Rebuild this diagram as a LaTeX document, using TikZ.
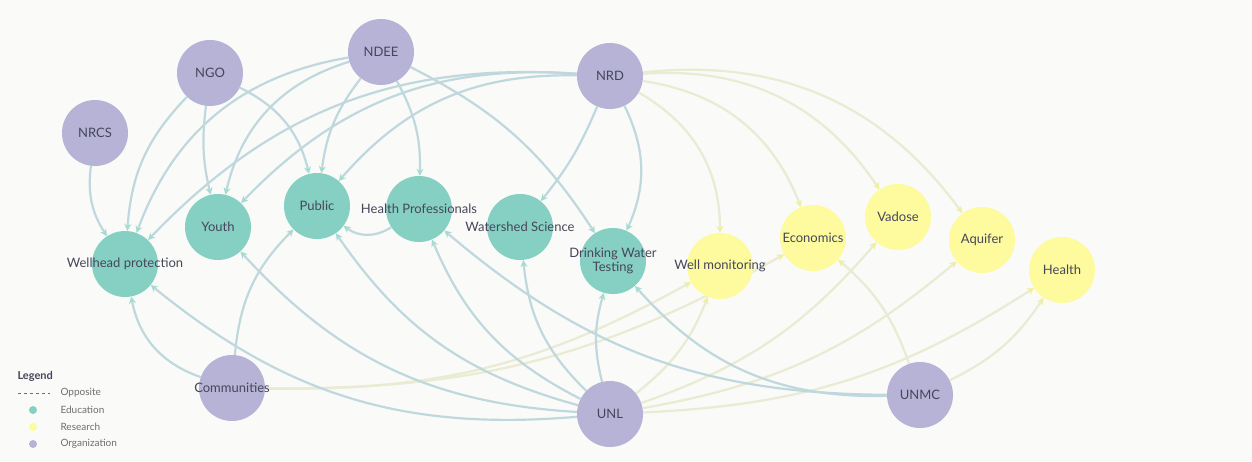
\documentclass[tikz,border=0pt]{standalone}
\usepackage{fontspec}
\setmainfont{Lato}
\usepackage{tikz}
\usetikzlibrary{arrows.meta, backgrounds}
\definecolor{edugreen}{HTML}{86D0C3}
\definecolor{resyellow}{HTML}{FDFB9E}
\definecolor{orgpurple}{HTML}{B6B3D7}
\definecolor{edgeedu}{HTML}{BFD8DE}
\definecolor{edgeres}{HTML}{E9EBD2}
\definecolor{bgpaper}{HTML}{FAFAF8}
\definecolor{labelgray}{HTML}{45465A}
\definecolor{legendgray}{HTML}{6E6E72}

\begin{document}
\begin{tikzpicture}[x=1pt, y=1pt, font=\fontsize{13}{14}\selectfont, text=labelgray,
  every label/.style={font=\fontsize{13}{14}\selectfont, text=labelgray},
  org/.style={circle, fill=orgpurple, minimum size=66pt, inner sep=0pt},
  edu/.style={circle, fill=edugreen, minimum size=66pt, inner sep=0pt},
  res/.style={circle, fill=resyellow, minimum size=66pt, inner sep=0pt},
  toedu/.style={draw=edgeedu, line width=2.2pt, -{Stealth[length=7pt, width=7pt, color=edugreen!75]}},
  tores/.style={draw=edgeres, line width=2.2pt, -{Stealth[length=7pt, width=7pt, color=resyellow!90!gray]}},
  legtext/.style={font=\fontsize{10}{11}\selectfont, text=legendgray, anchor=west},
  legdot/.style={circle, minimum size=8pt, inner sep=0pt}]
\useasboundingbox (0,0) rectangle (1252,-461);

% organizations
\node[org, label=center:NRCS] (nrcs) at (95,-133) {};
\node[org, label=center:NGO] (ngo) at (210,-73) {};
\node[org, label=center:NDEE] (ndee) at (381,-52) {};
\node[org, label=center:NRD] (nrd) at (610,-76) {};
\node[org, label=center:Communities] (communities) at (232,-388) {};
\node[org, label=center:UNL] (unl) at (610,-414) {};
\node[org, label=center:UNMC] (unmc) at (920,-395) {};

% education
\node[edu, label=center:Wellhead protection] (wellhead) at (125,-264) {};
\node[edu, label=center:Youth] (youth) at (218,-227) {};
\node[edu, label=center:Public] (public) at (317,-206) {};
\node[edu, label=center:Health Professionals] (healthpro) at (419,-209) {};
\node[edu, label=center:Watershed Science] (watershed) at (520,-227) {};
\node[edu, label={[align=center]center:Drinking Water\\Testing}] (drinking) at (613,-261) {};

% research
\node[res, label=center:Well monitoring] (wellmon) at (720,-266) {};
\node[res, label=center:Economics] (economics) at (813,-238) {};
\node[res, label=center:Vadose] (vadose) at (898,-217) {};
\node[res, label=center:Aquifer] (aquifer) at (982,-240) {};
\node[res, label=center:Health] (health) at (1062,-270) {};

% legend
\node[font=\bfseries\fontsize{11}{12}\selectfont, text=labelgray, anchor=west] (legend) at (14,-376) {Legend};
\coordinate (dashstart) at (18,-393);
\coordinate (dashend) at (50,-393);
\node[legtext] (opposite) at (57,-393) {Opposite};
\node[legdot, fill=edugreen] (doteducation) at (33,-410) {};
\node[legtext] (education) at (57,-410) {Education};
\node[legdot, fill=resyellow] (dotresearch) at (33,-427) {};
\node[legtext] (research) at (57,-427) {Research};
\node[legdot, fill=orgpurple] (dotorganization) at (33,-444) {};
\node[legtext] (organization) at (57,-444) {Organization};

\begin{scope}[on background layer]
\fill[bgpaper] (0,0) rectangle (1252,-461);
\draw[legendgray, line width=1pt, dash pattern=on 3pt off 3pt] (dashstart) -- (dashend);

\draw[toedu] (nrcs) to[bend right=20] (wellhead);
\draw[toedu] (ngo) to[bend right=20] (wellhead);
\draw[toedu] (ngo) to[bend right=10] (youth);
\draw[toedu] (ngo) to[bend left=25] (public);
\draw[toedu] (ndee) to[bend right=30] (wellhead);
\draw[toedu] (ndee) to[bend right=30] (youth);
\draw[toedu] (ndee) to[bend right=15] (public);
\draw[toedu] (ndee) to[bend left=15] (healthpro);
\draw[toedu] (ndee) to[bend left=15] (drinking);
\draw[toedu] (nrd) to[bend right=25] (wellhead);
\draw[toedu] (nrd) to[bend right=25] (youth);
\draw[toedu] (nrd) to[bend right=25] (public);
\draw[toedu] (nrd) to[bend left=8] (watershed);
\draw[toedu] (nrd) to[bend left=25] (drinking);
\draw[tores] (nrd) to[bend left=30] (wellmon);
\draw[tores] (nrd) to[bend left=30] (economics);
\draw[tores] (nrd) to[bend left=30] (vadose);
\draw[tores] (nrd) to[bend left=30] (aquifer);
\draw[toedu] (healthpro) to[bend left=35] (public);

\draw[toedu] (communities) to[bend left=30] (wellhead);
\draw[toedu] (communities) to[bend left=20] (public);
\draw[tores] (communities) to[bend right=15] (wellmon);
\draw[tores] (communities) to[bend right=15] (economics);

\draw[toedu] (unl) to[bend left=22] (wellhead);
\draw[toedu] (unl) to[bend left=22] (youth);
\draw[toedu] (unl) to[bend left=20] (public);
\draw[toedu] (unl) to[bend left=20] (healthpro);
\draw[toedu] (unl) to[bend left=20] (watershed);
\draw[toedu] (unl) to[bend left=15] (drinking);
\draw[tores] (unl) to[bend right=15] (wellmon);
\draw[tores] (unl) to[bend right=15] (vadose);
\draw[tores] (unl) to[bend right=15] (aquifer);
\draw[tores] (unl) to[bend right=15] (health);

\draw[toedu] (unmc) to[bend left=20] (healthpro);
\draw[toedu] (unmc) to[bend left=25] (drinking);
\draw[tores] (unmc) to[bend right=15] (economics);
\draw[tores] (unmc) to[bend right=15] (health);
\end{scope}
\end{tikzpicture}
\end{document}
